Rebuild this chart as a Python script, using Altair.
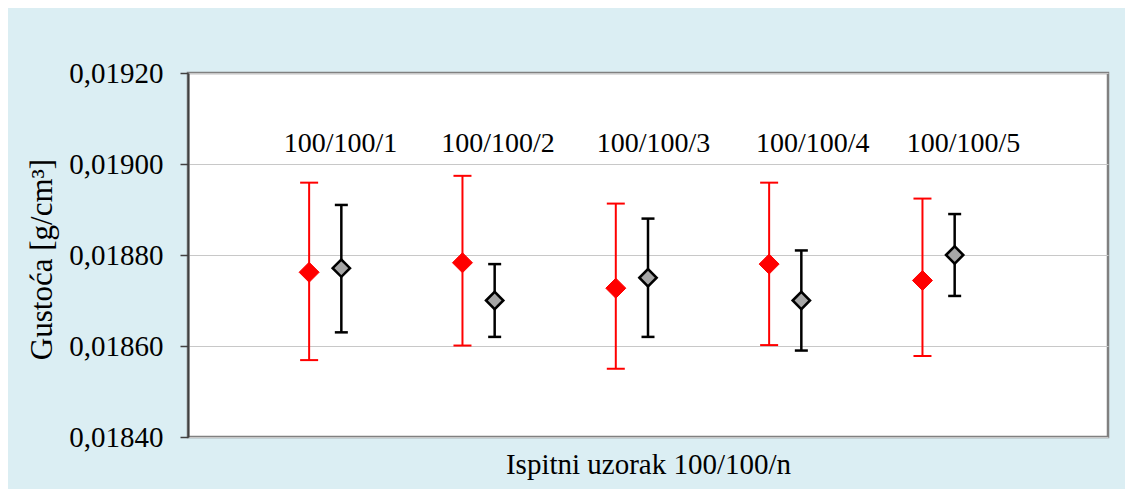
import altair as alt
import pandas as pd

samples = [1, 2, 3, 4, 5]
sample_labels = ["100/100/1", "100/100/2", "100/100/3", "100/100/4", "100/100/5"]
label_x = [0.995, 2.022, 3.036, 4.074, 5.058]
label_y = [0.019026] * 5
red_shift = 0.21

red_mean = [0.018762, 0.018783, 0.018727, 0.018780, 0.018744]
red_low = [0.018569, 0.018601, 0.018550, 0.018602, 0.018578]
red_high = [0.018959, 0.018974, 0.018913, 0.018959, 0.018924]

gray_mean = [0.018771, 0.018700, 0.018750, 0.018700, 0.018800]
gray_low = [0.018630, 0.018620, 0.018620, 0.018590, 0.018710]
gray_high = [0.018910, 0.018780, 0.018880, 0.018810, 0.018890]

y_ticks = [0.0184, 0.0186, 0.0188, 0.0190, 0.0192]

FONT = "Liberation Serif"

df_red = pd.DataFrame({"x": [s - red_shift for s in samples], "mean": red_mean,
                       "low": red_low, "high": red_high})
df_gray = pd.DataFrame({"x": samples, "mean": gray_mean, "low": gray_low, "high": gray_high})
df_lab = pd.DataFrame({"x": label_x, "y": label_y, "t": sample_labels})

xscale = alt.Scale(domain=[0, 6], nice=False, zero=False)
yscale = alt.Scale(domain=[0.0184, 0.0192], nice=False, zero=False)

xaxis = alt.Axis(title="Ispitni uzorak 100/100/n", labels=False, ticks=False, grid=False,
                 domain=False, titleFontSize=29, titleY=36, titleBaseline="alphabetic")
yaxis = alt.Axis(title="Gustoća [g/cm³]", values=y_ticks,
                 labelExpr="replace(format(datum.value, '.5f'), '.', ',')",
                 labelPadding=17, labelFontSize=29,
                 tickSize=8, tickColor="#404040", tickWidth=1.5,
                 gridColor="#C8C8C8", gridWidth=1.2,
                 domainColor="#404040", domainWidth=2,
                 titleFontSize=31, titleX=-137, titleY=186, titleBaseline="alphabetic")


def series(df, color, fill, stroke, cap, size, lw, strokew):
    base = alt.Chart(df)
    bar = base.mark_rule(color=color, strokeWidth=lw).encode(
        x=alt.X("x:Q", scale=xscale, axis=xaxis),
        y=alt.Y("low:Q", scale=yscale, axis=yaxis),
        y2="high:Q")
    cap_lo = base.mark_rule(color=color, strokeWidth=lw, xOffset=-cap, x2Offset=cap).encode(
        x="x:Q", x2="x:Q", y="low:Q")
    cap_hi = base.mark_rule(color=color, strokeWidth=lw, xOffset=-cap, x2Offset=cap).encode(
        x="x:Q", x2="x:Q", y="high:Q")
    pt = base.mark_point(shape="diamond", filled=True, fill=fill, stroke=stroke,
                         strokeWidth=strokew, size=size, opacity=1).encode(
        x="x:Q", y="mean:Q")
    return [bar, cap_lo, cap_hi, pt]


red_layers = series(df_red, "#FF0000", "#FF0000", "#FF0000", 9, 400, 2, 1)
gray_layers = series(df_gray, "#000000", "#A6A6A6", "#000000", 6.5, 300, 2.5, 2.5)

labels = alt.Chart(df_lab).mark_text(font=FONT, fontSize=28, color="black",
                                     baseline="alphabetic", align="center").encode(
    x="x:Q", y="y:Q", text="t:N")

chart = alt.layer(*red_layers, *gray_layers, labels).properties(
    width=920, height=364,
    background="#DBEEF3",
    padding={"left": 180, "top": 65, "right": 17, "bottom": 52},
    autosize=alt.AutoSizeParams(type="none"),
).configure_view(
    fill="white", stroke="#808080", strokeWidth=2.5
).configure_axis(
    labelFont=FONT, labelColor="black",
    titleFont=FONT, titleFontWeight="normal", titleColor="black"
)

chart.save("out.html", embed_options={"renderer": "svg", "actions": False})
